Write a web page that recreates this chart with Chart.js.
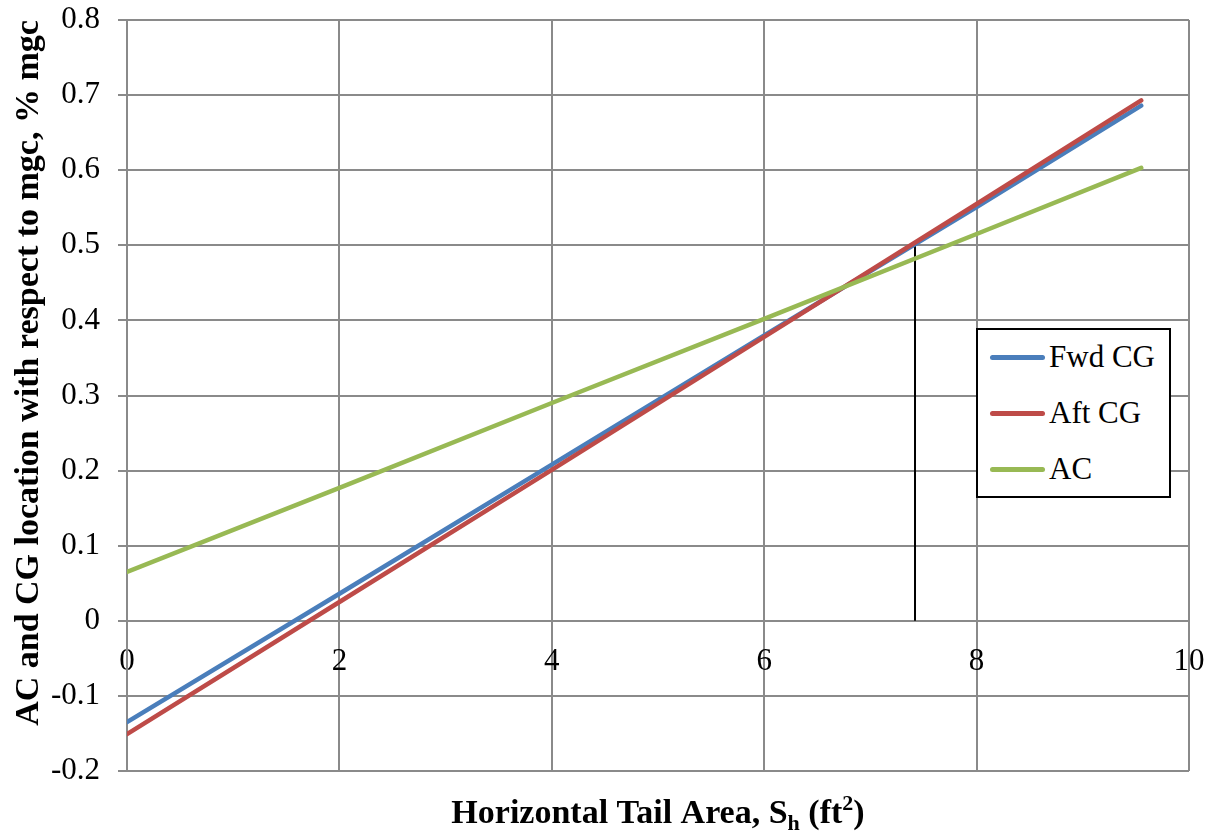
<!DOCTYPE html>
<html>
<head>
<meta charset="utf-8">
<script src="https://cdn.jsdelivr.net/npm/chart.js@4.4.1/dist/chart.umd.min.js"></script>
<style>
  html, body { margin: 0; padding: 0; background: #fff; }
  #wrap { position: relative; width: 1214px; height: 832px; }
  #legend {
    position: absolute; left: 976px; top: 328px; width: 191px; height: 166px;
    border: 2px solid #000; background: #fff;
    font-family: 'Liberation Serif', 'Times New Roman', serif; font-size: 31px; color: #000;
  }
  .row { position: absolute; left: 12px; height: 40px; display: flex; align-items: center; white-space: nowrap; }
  .sw { width: 55px; height: 5px; border-radius: 3px; margin-right: 4px; }
</style>
</head>
<body>
<div id="wrap">
  <canvas id="c" width="1214" height="832"></canvas>
  <div id="legend"></div>
</div>
<script>
/* AC / CG location vs horizontal tail area — Excel style scatter lines */
const xVals   = [0, 2, 4, 6, 8, 9.55];
const fwdCG   = [-0.135, 0.036, 0.208, 0.380, 0.551, 0.686];
const aftCG   = [-0.151, 0.025, 0.201, 0.378, 0.555, 0.693];
const acLoc   = [0.065, 0.177, 0.290, 0.402, 0.515, 0.603];
const markX   = [7.42, 7.42];
const markY   = [0, 0.504];
const seriesNames = ['Fwd CG', 'Aft CG', 'AC'];
const seriesColors = ['#4A7EBB', '#BE4B48', '#98B954'];
const xTicks = [0, 2, 4, 6, 8, 10];
const yTicks = [-0.2, -0.1, 0, 0.1, 0.2, 0.3, 0.4, 0.5, 0.6, 0.7, 0.8];

const SERIF = "'Liberation Serif', 'Times New Roman', serif";
const GRID = '#8a8a8a';

function pts(xs, ys) { return xs.map((x, i) => ({ x, y: ys[i] })); }

function line(label, data, color, order) {
  return {
    label, data, order,
    borderColor: color, backgroundColor: color,
    borderWidth: 4.5, borderCapStyle: 'round', borderJoinStyle: 'round',
    showLine: true, pointRadius: 0, pointHoverRadius: 0, tension: 0
  };
}

// label overhang would push the plot in; the layout padding covers it already
function noOverhang(s) { s.paddingTop = 0; s.paddingBottom = 0; s.paddingLeft = 0; s.paddingRight = 0; }

// axis titles drawn by hand so the sub/superscripts come out right
const titles = {
  id: 'titles',
  afterDraw(chart) {
    const ctx = chart.ctx;
    ctx.save();
    ctx.fillStyle = '#000';
    // y title
    ctx.font = 'bold 34px ' + SERIF;
    ctx.textAlign = 'center';
    ctx.textBaseline = 'alphabetic';
    ctx.translate(38, 373);
    ctx.rotate(-Math.PI / 2);
    ctx.fillText('AC and CG location with respect to mgc, % mgc', 0, 0);
    ctx.setTransform(1, 0, 0, 1, 0, 0);
    // x title: Horizontal Tail Area, S_h (ft^2)
    const parts = [
      { t: 'Horizontal Tail Area, S', s: 34, dy: 0 },
      { t: 'h', s: 22, dy: 7 },
      { t: ' (ft', s: 34, dy: 0 },
      { t: '2', s: 22, dy: -13 },
      { t: ')', s: 34, dy: 0 }
    ];
    ctx.textAlign = 'left';
    let w = 0;
    parts.forEach(p => { ctx.font = 'bold ' + p.s + 'px ' + SERIF; p.w = ctx.measureText(p.t).width; w += p.w; });
    const ca = chart.chartArea;
    let x = (ca.left + ca.right) / 2 - w / 2;
    parts.forEach(p => {
      ctx.font = 'bold ' + p.s + 'px ' + SERIF;
      ctx.fillText(p.t, x, 823 + p.dy);
      x += p.w;
    });
    ctx.restore();
  }
};

new Chart(document.getElementById('c'), {
  type: 'scatter',
  data: {
    datasets: [
      line(seriesNames[0], pts(xVals, fwdCG), seriesColors[0], 3),
      line(seriesNames[1], pts(xVals, aftCG), seriesColors[1], 2),
      line(seriesNames[2], pts(xVals, acLoc), seriesColors[2], 1),
      Object.assign(line('marker', pts(markX, markY), '#000', 4), { borderWidth: 2, borderCapStyle: 'butt' })
    ]
  },
  options: {
    responsive: false,
    animation: false,
    layout: { padding: { top: 20, right: 25, bottom: 61, left: 0 } },
    plugins: { legend: { display: false }, tooltip: { enabled: false } },
    scales: {
      x: {
        type: 'linear', position: { y: 0 },
        min: 0, max: 10,
        afterBuildTicks: s => { s.ticks = xTicks.map(v => ({ value: v })); },
        afterFit: noOverhang,
        grid: { color: GRID, lineWidth: 2, drawTicks: false },
        border: { display: false },
        ticks: { font: { family: SERIF, size: 31 }, color: '#000', padding: 22, maxRotation: 0 }
      },
      y: {
        type: 'linear', position: 'left',
        min: -0.2, max: 0.8,
        afterBuildTicks: s => { s.ticks = yTicks.map(v => ({ value: v })); },
        afterFit: s => { s.width = 127; noOverhang(s); },
        grid: { color: GRID, lineWidth: 2, drawTicks: true, tickLength: 9, tickColor: GRID },
        border: { display: true, color: GRID, width: 2 },
        ticks: {
          font: { family: SERIF, size: 31 }, color: '#000', padding: 18,
          callback: v => (Math.abs(v) < 1e-9 ? '0' : v.toFixed(1))
        }
      }
    }
  },
  plugins: [titles]
});

// legend box inside the plot, same look as the Excel one
const lg = document.getElementById('legend');
seriesNames.forEach((name, i) => {
  const r = document.createElement('div');
  r.className = 'row';
  r.style.top = (7 + i * 56) + 'px';
  r.innerHTML = '<span class="sw" style="background:' + seriesColors[i] + '"></span><span>' + name + '</span>';
  lg.appendChild(r);
});
</script>
</body>
</html>
